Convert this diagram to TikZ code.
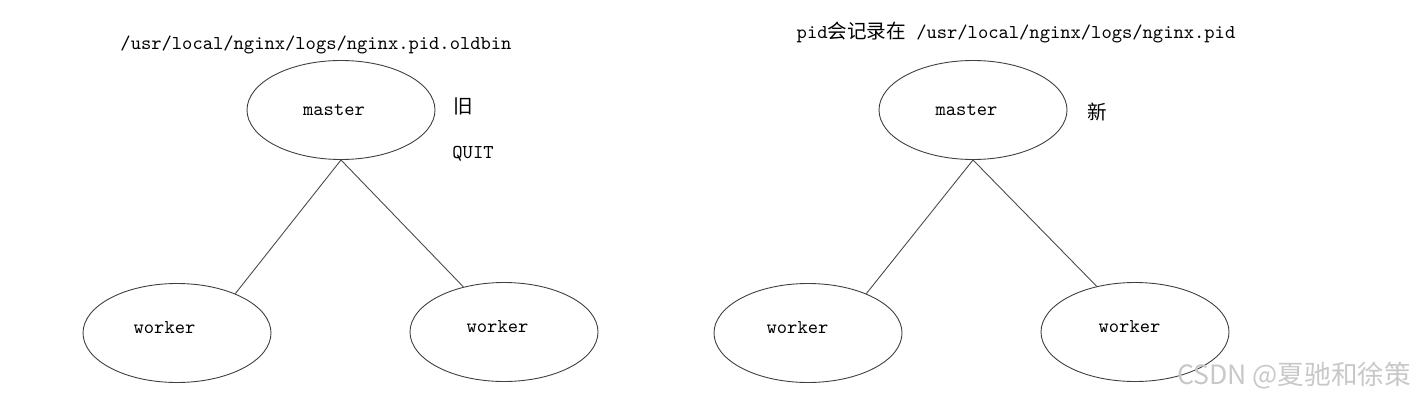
\documentclass[tikz,border=0pt]{standalone}
\usepackage{fontspec}
\newfontfamily\cjk{Noto Sans CJK SC}
\usetikzlibrary{shapes.geometric}
\definecolor{wmark}{HTML}{C8C8C8}
\tikzset{
  pproc/.style={ellipse,draw=black!75,line width=0.45pt,minimum width=94pt,minimum height=49.5pt,inner sep=0pt},
  plink/.style={line width=0.45pt,draw=black!70},
  ptext/.style={inner sep=0pt}
}
\begin{document}
\begin{tikzpicture}[x=0.5pt,y=-0.5pt,font=\fontsize{9.8}{12}\selectfont\ttfamily]
  \useasboundingbox (0,0) rectangle (1417,401);
  % old master and its workers
  \node[ptext] (oldpath) at (316,45) {/usr/local/nginx/logs/nginx.pid.oldbin};
  \node[pproc,label={[ptext,xshift=-3.5pt]center:master}] (mold) at (341,110) {};
  \node[ptext] (oldtag) at (463,106) {\cjk 旧};
  \node[ptext] (quit) at (473,154) {QUIT};
  \node[pproc,label={[ptext,xshift=-6.25pt,yshift=2.5pt]center:worker}] (wold1) at (177,333) {};
  \node[pproc,label={[ptext,xshift=-3.25pt,yshift=2.5pt]center:worker}] (wold2) at (504,332) {};
  \draw[plink] (mold.south) -- (wold1.34);
  \draw[plink] (mold.south) -- (wold2.132);
  % new master and its workers
  \node[ptext] (newpath) at (1016,33) {pid{\cjk 会记录在} /usr/local/nginx/logs/nginx.pid};
  \node[pproc,label={[ptext,xshift=-3.25pt]center:master}] (mnew) at (973,110) {};
  \node[ptext] (newtag) at (1097,112) {\cjk 新};
  \node[pproc,label={[ptext,xshift=-5.25pt,yshift=2.5pt]center:worker}] (wnew1) at (808,333) {};
  \node[pproc,label={[ptext,xshift=-2.75pt,yshift=2.5pt]center:worker}] (wnew2) at (1135,332) {};
  \draw[plink] (mnew.south) -- (wnew1.34);
  \draw[plink] (mnew.south) -- (wnew2.130);
  \node[ptext,text=wmark,font=\fontsize{13.3}{15}\selectfont\cjk] (mark) at (1294,376) {CSDN @夏驰和徐策};
\end{tikzpicture}
\end{document}
